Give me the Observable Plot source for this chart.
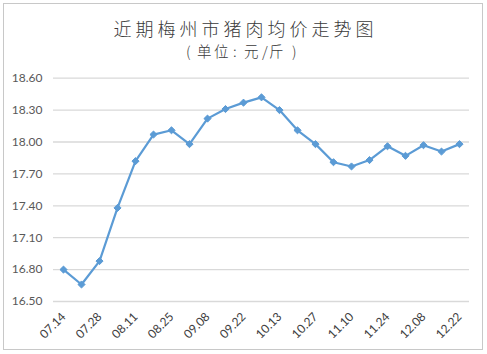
<!DOCTYPE html>
<html>
<head>
<meta charset="utf-8">
<script src="https://cdn.jsdelivr.net/npm/d3@7"></script>
<script src="https://cdn.jsdelivr.net/npm/@observablehq/plot@0.6"></script>
<style>
  html, body { margin: 0; padding: 0; background: #fff; }
  #wrap { position: relative; width: 487px; height: 354px; overflow: hidden; background: #fff; }
  #frame { position: absolute; left: 3px; top: 3px; width: 480px; height: 347px; border: 1px solid #c8c8c8; box-sizing: border-box; }
  .t { position: absolute; left: 0; width: 487px; text-align: center; font-family: "Noto Sans CJK SC", sans-serif; color: #3a3a3a; white-space: nowrap; }
  #title { top: 15px; font-size: 18px; line-height: 26px; letter-spacing: 4px; text-indent: 4px; font-weight: 300; }
  #subtitle { top: 41px; height: 20px; font-size: 14.5px; line-height: 20px; font-weight: 300; }
  #subtitle span { position: absolute; top: 0; }
  #chart { position: absolute; left: 0; top: 0; }
</style>
</head>
<body>
<div id="wrap">
  <div id="chart"></div>
  <div id="frame"></div>
  <div class="t" id="title" lang="zh-CN">近期梅州市猪肉均价走势图</div>
  <div class="t" id="subtitle" lang="zh-CN"><span style="left:186px">(</span><span style="left:197px">单</span><span style="left:214px">位</span><span style="left:233px">:</span><span style="left:244px">元</span><span style="left:262px">/</span><span style="left:269px">斤</span><span style="left:292px">)</span></div>
</div>
<script>
const dates = ["07.14","07.21","07.28","08.04","08.11","08.18","08.25","09.01","09.08","09.15","09.22","09.29",
               "10.13","10.20","10.27","11.03","11.10","11.17","11.24","12.01","12.08","12.15","12.22"];
const prices = [16.80,16.66,16.88,17.38,17.82,18.07,18.11,17.98,18.22,18.31,18.37,18.42,
                18.30,18.11,17.98,17.81,17.77,17.83,17.96,17.87,17.97,17.91,17.98];
const xLabels = ["07.14","07.28","08.11","08.25","09.08","09.22","10.13","10.27","11.10","11.24","12.08","12.22"];
const yTicks = [16.50,16.80,17.10,17.40,17.70,18.00,18.30,18.60];

const data = dates.map((d, i) => ({date: d, price: prices[i]}));
const blue = "#5B9BD5";

const chart = Plot.plot({
  width: 487,
  height: 354,
  marginTop: 77.7,
  marginBottom: 53,
  marginLeft: 53,
  marginRight: 18,
  style: {fontFamily: "Lato, 'Liberation Sans', sans-serif", fontSize: "12px", color: "#595959", background: "transparent"},
  x: {type: "point", domain: dates, padding: 0.5, axis: null},
  y: {domain: [16.5, 18.6], axis: null},
  marks: [
    Plot.ruleY(yTicks, {stroke: "#d9d9d9", strokeWidth: 1.3}),
    Plot.axisY(yTicks, {tickSize: 0, tickPadding: 11, tickFormat: d => d.toFixed(2), fill: "#595959", fontSize: 12, label: null}),
    Plot.text(xLabels, {x: d => d, frameAnchor: "bottom", rotate: -45, textAnchor: "end", dx: 3, dy: 16, fill: "#404040", fontSize: 12}),
    Plot.line(data, {x: "date", y: "price", stroke: blue, strokeWidth: 2.2}),
    Plot.dot(data, {x: "date", y: "price", symbol: "diamond2", r: 3.2, fill: blue, stroke: blue, strokeWidth: 1})
  ]
});
document.getElementById("chart").appendChild(chart);
</script>
</body>
</html>
